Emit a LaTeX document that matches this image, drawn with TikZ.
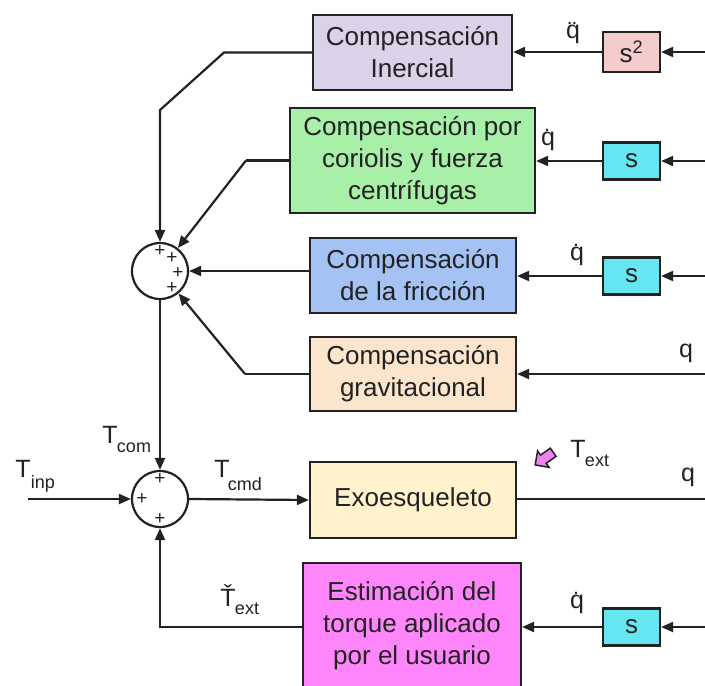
\documentclass[tikz,border=0pt]{standalone}
\usepackage{fontspec}
\setmainfont{Liberation Sans}
\usetikzlibrary{arrows.meta}
\definecolor{cinert}{HTML}{D9D2E9}
\definecolor{ccor}{HTML}{A8F0A8}
\definecolor{cfric}{HTML}{A4C2F4}
\definecolor{cgrav}{HTML}{FCE5CD}
\definecolor{cexo}{HTML}{FFF2CC}
\definecolor{cest}{HTML}{FF85FA}
\definecolor{csq}{HTML}{F4CCCC}
\definecolor{cs}{HTML}{66E6F0}
\definecolor{cline}{HTML}{222222}
\definecolor{cpink}{HTML}{EE82EE}
\begin{document}
\begin{tikzpicture}[x=1pt,y=-1pt,
  every node/.style={font=\fontsize{26}{32}\selectfont, text=cline},
  blk/.style={draw=cline, line width=2.2pt, rectangle, align=center, inner sep=0pt},
  sbox/.style={blk, fill=cs, minimum width=57pt, minimum height=37pt},
  sumc/.style={draw=cline, line width=2.2pt, circle, minimum size=56pt, inner sep=0pt},
  conn/.style={draw=cline, line width=2.2pt},
  arr/.style={conn, -{Triangle[length=12pt,width=10pt]}},
  pl/.style={font=\fontsize{19}{19}\selectfont, inner sep=0pt},
  lab/.style={font=\fontsize{25}{25}\selectfont, inner sep=0pt},
  sub/.style={font=\fontsize{18}{18}\selectfont, inner sep=0pt}
]
\useasboundingbox (0,0) rectangle (705,686);

% blocks
\node[blk, fill=cinert, minimum width=199pt, minimum height=75pt] (inr) at (412.5,52.5) {Compensación\\Inercial};
\node[blk, fill=ccor, minimum width=245pt, minimum height=105pt] (cor) at (412.5,160.5) {Compensación por\\coriolis y fuerza\\centrífugas};
\node[blk, fill=cfric, minimum width=206pt, minimum height=75pt] (fri) at (413,275.5) {Compensación\\de la fricción};
\node[blk, fill=cgrav, minimum width=206pt, minimum height=74pt] (gra) at (413,374) {Compensación\\gravitacional};
\node[blk, fill=cexo, minimum width=206pt, minimum height=76pt] (exo) at (413,500) {Exoesqueleto};
\node[blk, fill=cest, minimum width=218pt, minimum height=128pt] (est) at (412,627) {};
\node[align=center, inner sep=0pt] (estt) at (412,626) {Estimación del\\torque aplicado\\por el usuario};

% s boxes
\node[sbox, fill=csq, minimum height=40pt] (s1) at (631.5,52) {s$^{\mathrm{2}}$};
\node[sbox] (s2) at (631.5,161) {s};
\node[sbox] (s3) at (631.5,276) {s};
\node[sbox] (s6) at (631.5,627) {s};

% sum junctions
\node[sumc] (c1) at (160,271) {};
\node[sumc] (c2) at (160,499) {};

% plus signs
\node[pl] (p1) at (160,251) {+};
\node[pl] (p2) at (172,258) {+};
\node[pl] (p3) at (178,273) {+};
\node[pl] (p4) at (172,288) {+};
\node[pl] (p5) at (160,479) {+};
\node[pl] (p6) at (142,499) {+};
\node[pl] (p7) at (160,519) {+};

% right-side inputs
\coordinate (r1) at (705,52);
\coordinate (r2) at (705,161);
\coordinate (r3) at (705,276);
\coordinate (r4) at (705,374);
\coordinate (r5) at (705,499);
\coordinate (r6) at (705,627);
\draw[arr] (r1) -- (s1);
\draw[arr] (r2) -- (s2);
\draw[arr] (r3) -- (s3);
\draw[arr] (r4) -- (gra.east |- r4);
\draw[conn] (exo.east |- r5) -- (r5);
\draw[arr] (r6) -- (s6);

\draw[arr] (s1) -- (inr.east |- s1);
\draw[arr] (s2) -- (cor.east |- s2);
\draw[arr] (s3) -- (fri.east |- s3);
\draw[arr] (s6) -- (est.east |- s6);

% labels on right
\node[lab] (lq1) at (573,33) {\"q};
\node[lab] (lq2) at (548,140) {\.q};
\node[lab] (lq3) at (577,255) {\.q};
\node[lab] (lq4) at (686,353) {q};
\node[lab] (lq5) at (688,477) {q};
\node[lab] (lq6) at (577,603) {\.q};

% connections into first sum
\coordinate (k1) at (224,52.5);
\coordinate (k1b) at (160,110);
\draw[arr] (inr.west) -- (k1) -- (k1b) -- (c1.north);
\coordinate (k2) at (246,160.5);
\draw[conn] (cor.west) -- (k2);
\draw[arr] (k2) -- (c1);
\draw[arr] (fri.west |- c1) -- (c1.east);
\coordinate (k4) at (245,374);
\draw[conn] (gra.west) -- (k4);
\draw[arr] (k4) -- (c1);

% second sum
\draw[arr] (c1.south) -- (c2.north);
\coordinate (tin) at (28,499);
\draw[arr] (tin) -- (c2.west);
\draw[arr] (c2.east) -- (exo.west);
\coordinate (k6) at (160,627);
\draw[arr] (est.west) -- (k6) -- (c2.south);

% T labels
\node[lab] (tcom) at (110,435) {T};
\node[sub] (tcoms) at (134,448) {com};
\node[lab] (tinp) at (23,469) {T};
\node[sub] (tinps) at (43,484) {inp};
\node[lab] (tcmd) at (222,469) {T};
\node[sub] (tcmds) at (245,484) {cmd};
\node[lab] (text) at (578,449) {T};
\node[sub] (texts) at (597,461) {ext};
\node[lab] (tex2) at (228,596) {\v{T}};
\node[sub] (tex2s) at (247,609) {ext};

% pink force arrow
\begin{scope}[shift={(545,458)}, rotate=215]
\draw[fill=cpink, draw=cline, line width=1.5pt] (-10,-5) -- (2,-5) -- (2,-10) -- (12,0) -- (2,10) -- (2,5) -- (-10,5) -- cycle;
\end{scope}
\end{tikzpicture}
\end{document}
